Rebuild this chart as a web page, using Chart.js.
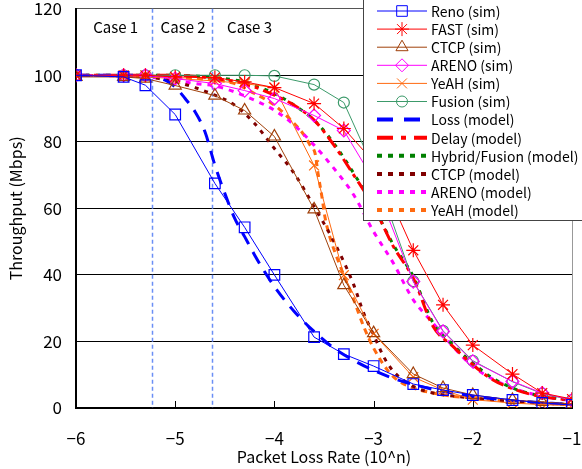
<!DOCTYPE html>
<html><head><meta charset="utf-8">
<script src="https://cdn.jsdelivr.net/npm/chart.js@4.4.0/dist/chart.umd.min.js"></script>
<style>html,body{margin:0;padding:0;background:#fff}</style>
</head><body>
<canvas id="c" width="582" height="469"></canvas>
<script>
// ---------- data ----------
const xTickValues = [-6, -5, -4, -3, -2, -1];
const caseLabels = ['Case 1', 'Case 2', 'Case 3'];
const caseX = [-5.60, -4.92, -4.25];
const caseBoundaries = [-5.23, -4.63];

const simX = [-6, -5.52, -5.3, -5, -4.6, -4.3, -4, -3.6, -3.3, -3, -2.6, -2.3, -2, -1.6, -1.3, -1];
const renoSim   = [100, 99.5, 97, 88.2, 67.5, 54.3, 40, 21.3, 16.2, 12.6, 7.2, 5.4, 3.9, 2.4, 1.5, 0.9];
const fastSim   = [100, 100, 100, 99.5, 99.3, 98, 96.3, 91.5, 84, 74, 47.4, 31, 18.9, 10.2, 4.5, 2.7];
const ctcpSim   = [99.5, 99.5, 99, 96.9, 93.9, 89.4, 81.6, 59.7, 36.9, 22.5, 10.2, 6, 3.9, 2.4, 1.8, 1.2];
const arenoSim  = [100, 100, 100, 99, 97.5, 95.4, 93, 87.9, 83.4, 68.5, 38, 23, 14, 8, 4.5, 2.4];
const yeahSim   = [100, 99.5, 99.5, 99, 98.3, 97.5, 96.3, 72.9, 39.9, 22.3, 9.3, 5.4, 2.5, 1.5, 1, 0.8];
const fusionSim = [100, 100, 100, 100, 100, 100, 99.8, 97.2, 91.8, 72, 38.1, 23.2, 14.2, 7.9, 4.3, 2.4];

const lossX = [-6, -5.5, -5.2, -5.1, -5, -4.9, -4.8, -4.7, -4.6, -4.5, -4.4, -4.3, -4.2, -4.1, -4, -3.8, -3.6, -3.4, -3.2, -3, -2.8, -2.6, -2.4, -2.2, -2, -1.8, -1.6, -1.4, -1.2, -1];
const lossY = [100, 100, 99.5, 98.5, 96.5, 93, 89, 83, 73, 64.5, 57, 51.5, 46, 41, 36.5, 29, 23, 18, 14.3, 11.3, 8.9, 7.1, 5.6, 4.5, 3.5, 2.8, 2.2, 1.8, 1.4, 1.1];

const delayX = [-6, -5, -4.6, -4.3, -4.2, -4, -3.8, -3.6, -3.4, -3.2, -3, -2.8, -2.6, -2.4, -2.2, -2, -1.8, -1.6, -1.4, -1.2, -1];
const delayY  = [100, 100, 99, 97.5, 96.5, 94, 91, 86.5, 79, 70, 60.5, 48.5, 39, 24.5, 18.5, 13, 8.5, 5.8, 4, 3, 2.3];
const hybridY = [100, 100, 99.3, 98, 97, 94.5, 91, 86.5, 79.5, 70.5, 60.5, 49, 39.5, 25.5, 19, 13.5, 9, 6, 4.2, 3.1, 2.4];

const ctcpModelX = [-6, -5.3, -5, -4.8, -4.6, -4.4, -4.2, -4, -3.8, -3.6, -3.4, -3.2, -3.1, -3, -2.9, -2.8, -2.6, -2.4, -2.2, -2, -1.6, -1.3, -1];
const ctcpModelY = [100, 99.5, 98, 96.3, 94, 91, 85.5, 78, 70.5, 60.5, 50, 37, 28.5, 22, 15.5, 11, 6.5, 4.5, 3.6, 3, 2, 1.5, 1];

const arenoModelX = [-6, -5.3, -5, -4.8, -4.6, -4.4, -4.2, -4, -3.8, -3.6, -3.4, -3.2, -3, -2.8, -2.6, -2.4, -2.2, -2, -1.8, -1.6, -1.4, -1.2, -1];
const arenoModelY = [100, 99.5, 98.5, 97.5, 96.8, 95, 92.5, 89.5, 85, 79, 72, 64, 53, 43.5, 32.5, 25.5, 18.5, 12.5, 8.7, 6, 4.2, 3, 2.2];

const yeahModelX = [-6, -5, -4.6, -4.4, -4.2, -4, -3.8, -3.7, -3.64, -3.59, -3.56, -3.52, -3.49, -3.44, -3.34, -3.21, -3.1, -3, -2.86, -2.76, -2.6, -2.4, -2.2, -2, -1.6, -1.3, -1];
const yeahModelY = [100, 99.5, 98.5, 97.5, 94.5, 91, 85.5, 82, 79, 76.5, 70.5, 63.3, 57.3, 51.3, 42.9, 33.3, 24.5, 18, 11.4, 8.4, 6, 4.5, 3.5, 3, 2, 1.4, 1];

// ---------- helpers ----------
const FONT = '"Noto Sans CJK JP", "Noto Sans", sans-serif';
const pts = (xs, ys) => xs.map((x, i) => ({x: x, y: ys[i]}));

function sim(label, ys, color, style, radius) {
  return {label, data: pts(simX, ys), borderColor: color, borderWidth: 1,
    pointStyle: style, pointRadius: radius, pointBorderColor: color, pointBorderWidth: 1.2,
    pointBackgroundColor: 'rgba(0,0,0,0)', showLine: true, legendWidth: 1, legendDash: []};
}
function model(label, xs, ys, color, dash, legendDash) {
  return {label, data: pts(xs, ys), borderColor: color, borderWidth: 3, borderDash: dash,
    pointRadius: 0, showLine: true, cubicInterpolationMode: 'monotone',
    legendWidth: 4, legendDash: legendDash, pointStyle: false};
}

const datasets = [
  sim('Reno (sim)', renoSim, '#0000ff', 'rect', 7.5),
  sim('FAST (sim)', fastSim, '#ff0000', 'star', 7),
  sim('CTCP (sim)', ctcpSim, '#a0400a', 'triangle', 7),
  sim('ARENO (sim)', arenoSim, '#ff00ff', 'rectRot', 6.5),
  sim('YeAH (sim)', yeahSim, '#ff6a10', 'crossRot', 7),
  sim('Fusion (sim)', fusionSim, '#3c9a6a', 'circle', 5.5),
  model('Loss (model)', lossX, lossY, '#0000ff', [13, 9], [16, 11]),
  model('Delay (model)', delayX, delayY, '#ff0000', [13, 5, 4, 5], [16, 8, 5, 8]),
  model('Hybrid/Fusion (model)', delayX, hybridY, '#008000', [4, 6], [5, 6]),
  model('CTCP (model)', ctcpModelX, ctcpModelY, '#800000', [4, 6], [5, 6]),
  model('ARENO (model)', arenoModelX, arenoModelY, '#ff00ff', [5, 6], [5, 6]),
  model('YeAH (model)', yeahModelX, yeahModelY, '#ff6a10', [6, 5], [5, 6])
];

// ---------- plugins ----------
const decorPlugin = {
  id: 'decor',
  beforeDatasetsDraw(chart) {
    const {ctx, chartArea: a, scales: {x, y}} = chart;
    ctx.save();
    ctx.strokeStyle = '#6b8ff5'; ctx.lineWidth = 1.5; ctx.setLineDash([4, 3]);
    caseBoundaries.forEach(v => {
      const px = Math.round(x.getPixelForValue(v)) + 0.5;
      ctx.beginPath(); ctx.moveTo(px, a.top); ctx.lineTo(px, a.bottom); ctx.stroke();
    });
    ctx.setLineDash([]);
    ctx.fillStyle = '#000'; ctx.font = '15px ' + FONT; ctx.textAlign = 'center'; ctx.textBaseline = 'middle';
    caseLabels.forEach((t, i) => ctx.fillText(t, x.getPixelForValue(caseX[i]), y.getPixelForValue(114.3)));
    ctx.strokeStyle = '#000'; ctx.lineWidth = 1;
    xTickValues.forEach(v => {
      const px = Math.round(x.getPixelForValue(v)) + 0.5;
      ctx.beginPath(); ctx.moveTo(px, a.bottom - 7); ctx.lineTo(px, a.bottom); ctx.stroke();
    });
    ctx.restore();
  },
  afterDatasetsDraw(chart) {
    const ctx = chart.ctx;
    ctx.save();
    ctx.fillStyle = '#fff'; ctx.strokeStyle = '#444'; ctx.lineWidth = 1;
    ctx.fillRect(363.5, -2, 240, 222.5);
    ctx.strokeRect(363.5, -2, 240, 222.5);
    chart.data.datasets.forEach((ds, i) => {
      const yy = 11 + i * 18.1;
      ctx.save();
      ctx.strokeStyle = ds.borderColor; ctx.lineWidth = ds.legendWidth; ctx.setLineDash(ds.legendDash);
      ctx.beginPath(); ctx.moveTo(377, yy); ctx.lineTo(427, yy); ctx.stroke();
      ctx.setLineDash([]);
      if (ds.pointStyle) {
        ctx.strokeStyle = ds.borderColor; ctx.fillStyle = 'rgba(0,0,0,0)';
        Chart.helpers.drawPoint(ctx, {pointStyle: ds.pointStyle, radius: ds.pointRadius, borderWidth: 1.2, rotation: 0}, 402, yy);
      }
      ctx.restore();
      ctx.fillStyle = '#000'; ctx.font = '14px ' + FONT; ctx.textAlign = 'left'; ctx.textBaseline = 'middle';
      ctx.fillText(ds.label, 431, yy + 0.5);
    });
    ctx.restore();
  }
};

const noPad = s => { s.paddingTop = 0; s.paddingBottom = 0; s.paddingLeft = 0; s.paddingRight = 0; };

new Chart(document.getElementById('c'), {
  type: 'scatter',
  data: {datasets},
  plugins: [decorPlugin],
  options: {
    responsive: false, animation: false, devicePixelRatio: 1,
    layout: {padding: {top: 8, right: 10, left: 0, bottom: 0}},
    plugins: {legend: {display: false}, tooltip: {enabled: false}},
    scales: {
      x: {
        type: 'linear', min: -6, max: -1,
        afterFit: s => { s.height = 61; noPad(s); },
        afterBuildTicks: s => { s.ticks = xTickValues.map(v => ({value: v})); },
        ticks: {padding: 20, color: '#000', font: {size: 17, family: FONT},
          callback: v => String(v).replace('-', '\u2212')},
        grid: {drawTicks: false, color: c => (c.tick && c.tick.value === -1) ? '#999' : 'rgba(0,0,0,0)'},
        border: {display: true, color: '#000', width: 2},
        title: {display: true, text: 'Packet Loss Rate (10^n)', color: '#000',
          font: {size: 16, family: FONT}, padding: {top: 0, bottom: 2}}
      },
      y: {
        min: 0, max: 120,
        afterFit: s => { s.width = 76; noPad(s); },
        ticks: {stepSize: 20, padding: 14, color: '#000', font: {size: 17, family: FONT}},
        grid: {drawTicks: false, color: c => (c.tick && c.tick.value === 120) ? '#555' : '#000', lineWidth: 1},
        border: {display: true, color: '#000', width: 2},
        title: {display: true, text: 'Throughput (Mbps)', color: '#000',
          font: {size: 16, family: FONT}, padding: {top: 6, bottom: 4}}
      }
    }
  }
});
</script>
</body></html>
